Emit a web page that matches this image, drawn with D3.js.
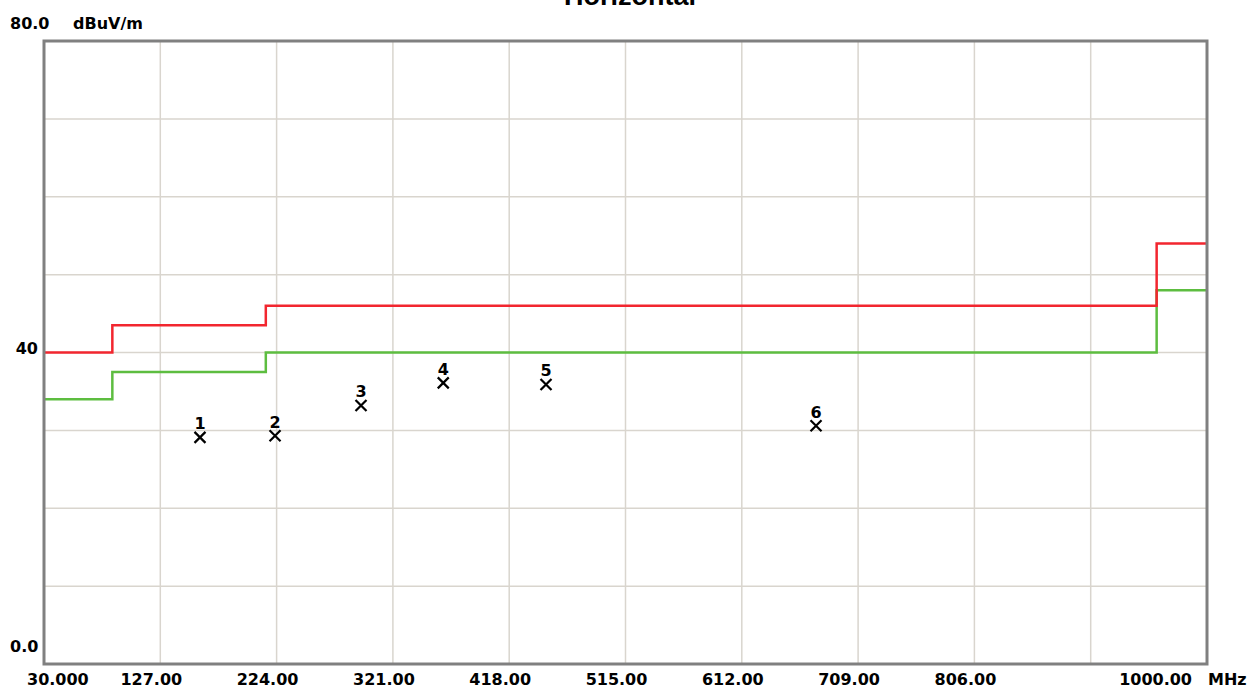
<!DOCTYPE html>
<html lang="en">
<head>
  <meta charset="UTF-8">
  <title>Horizontal - Radiated Emission</title>
  <style>
    body { margin: 0; background: #fff; }
    svg text { font-family: "DejaVu Sans", sans-serif; font-weight: bold; fill: #000; }
    .title { font-family: "Liberation Sans", Arial, sans-serif; }
  </style>
</head>
<body>
  <svg id="chart" width="1247" height="689"></svg>

  <script src="https://d3js.org/d3.v7.min.js"></script>
  <script>
    // Frequency grid (MHz) and its labels
    const freqTicks = [30, 127, 224, 321, 418, 515, 612, 709, 806, 903, 1000];
    const freqLabels = ["30.000", "127.00", "224.00", "321.00", "418.00", "515.00", "612.00", "709.00", "806.00", "", "1000.00"];

    // Level grid (dBuV/m)
    const levelTicks = [0, 10, 20, 30, 40, 50, 60, 70, 80];
    const levelLabels = ["0.0", "", "", "", "40", "", "", "", "80.0"];

    // Limit lines: band edges and levels
    const limitEdges = [30, 87, 215, 958, 1000];
    const limitLevels = [40, 43.5, 46, 54];   // red
    const marginLevels = [34, 37.5, 40, 48];  // green

    // Measured peaks
    const peakIds = ["1", "2", "3", "4", "5", "6"];
    const peakFreqs = [160.1, 222.7, 294.4, 363.0, 448.7, 673.9];
    const peakLevels = [29.1, 29.3, 33.2, 36.1, 35.9, 30.6];

    const svg = d3.select("#chart");
    const plot = { left: 44, right: 1207, top: 41, bottom: 664 };

    const x = d3.scaleLinear().domain([30, 1000]).range([plot.left, plot.right]);
    const y = d3.scaleLinear().domain([0, 80]).range([plot.bottom, plot.top]);

    // Grid lines
    svg.append("g")
      .selectAll("line")
      .data(freqTicks.slice(1, -1))
      .enter().append("line")
      .attr("x1", d => x(d)).attr("x2", d => x(d))
      .attr("y1", plot.top).attr("y2", plot.bottom)
      .attr("stroke", "#d9d5ce").attr("stroke-width", 1.5);

    svg.append("g")
      .selectAll("line")
      .data(levelTicks.slice(1, -1))
      .enter().append("line")
      .attr("x1", plot.left).attr("x2", plot.right)
      .attr("y1", d => y(d)).attr("y2", d => y(d))
      .attr("stroke", "#d9d5ce").attr("stroke-width", 1.5);

    // Limit lines (step after each band edge)
    const stepLine = levels => d3.line()
      .x(d => x(d[0]))
      .y(d => y(d[1]))
      .curve(d3.curveStepAfter)(limitEdges.map((f, i) => [f, levels[Math.min(i, levels.length - 1)]]));

    svg.append("path")
      .attr("d", stepLine(marginLevels))
      .attr("fill", "none").attr("stroke", "#5dbd40").attr("stroke-width", 2.5);

    svg.append("path")
      .attr("d", stepLine(limitLevels))
      .attr("fill", "none").attr("stroke", "#f2262f").attr("stroke-width", 2.5);

    // Frame
    svg.append("rect")
      .attr("x", plot.left).attr("y", plot.top)
      .attr("width", plot.right - plot.left).attr("height", plot.bottom - plot.top)
      .attr("fill", "none").attr("stroke", "#808080").attr("stroke-width", 3);

    // Peak markers
    const peaks = peakIds.map((id, i) => ({ id: id, f: peakFreqs[i], v: peakLevels[i] }));
    const marks = svg.append("g").selectAll("g")
      .data(peaks)
      .enter().append("g")
      .attr("transform", d => `translate(${x(d.f)},${y(d.v)})`);

    marks.append("path")
      .attr("d", "M-5.5,-5.5L5.5,5.5M5.5,-5.5L-5.5,5.5")
      .attr("stroke", "#000").attr("stroke-width", 2.2).attr("fill", "none");

    marks.append("text")
      .attr("y", -8)
      .attr("text-anchor", "middle")
      .style("font-size", "16px")
      .text(d => d.id);

    // Frequency labels
    svg.append("g")
      .selectAll("text")
      .data(freqTicks.map((f, i) => ({ f: f, label: freqLabels[i], i: i })).filter(d => d.label))
      .enter().append("text")
      .attr("x", d => d.i === 0 ? 27 : (d.i === freqTicks.length - 1 ? x(d.f) - 15 : x(d.f) - 9))
      .attr("y", 685)
      .attr("text-anchor", d => d.i === 0 ? "start" : (d.i === freqTicks.length - 1 ? "end" : "middle"))
      .style("font-size", "16px")
      .text(d => d.label);

    svg.append("text")
      .attr("x", 1208).attr("y", 685)
      .style("font-size", "16px")
      .text("MHz");

    // Level labels
    svg.append("g")
      .selectAll("text")
      .data(levelTicks.map((v, i) => ({ v: v, label: levelLabels[i] })).filter(d => d.label))
      .enter().append("text")
      .attr("x", d => d.v === 40 ? 38 : 10)
      .attr("y", d => d.v === 40 ? y(d.v) + 1 : y(d.v) - 12)
      .attr("text-anchor", d => d.v === 40 ? "end" : "start")
      .style("font-size", "16px")
      .text(d => d.label);

    svg.append("text")
      .attr("x", 73).attr("y", 29)
      .style("font-size", "16px")
      .text("dBuV/m");

    // Title (partly above the page edge, as in the source plot)
    svg.append("text")
      .attr("class", "title")
      .attr("x", 630).attr("y", 5)
      .attr("text-anchor", "middle")
      .style("font-size", "27px")
      .text("Horizontal");
  </script>
</body>
</html>
